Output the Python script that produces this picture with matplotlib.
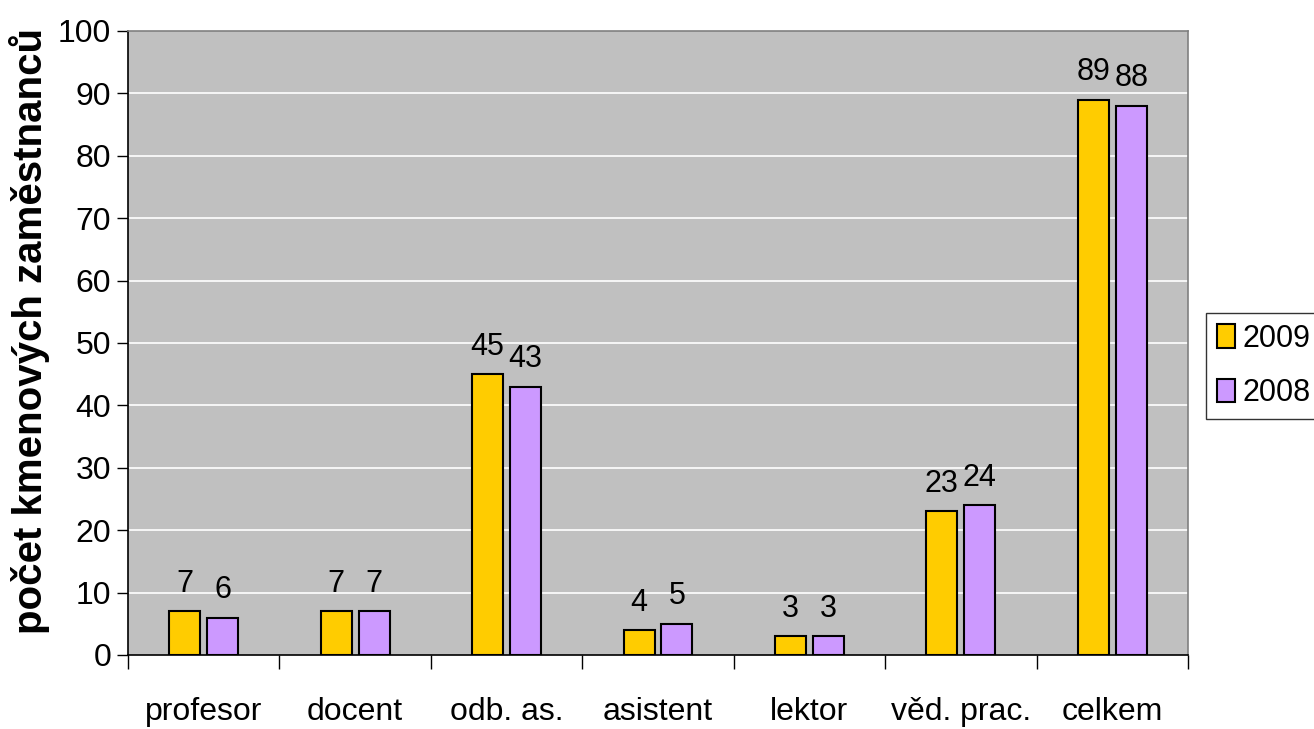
import numpy as np
import matplotlib
matplotlib.use("Agg")
import matplotlib.pyplot as plt

plt.rcParams['font.family'] = ['Liberation Sans', 'DejaVu Sans']

categories = ["profesor", "docent", "odb. as.", "asistent", "lektor", "věd. prac.", "celkem"]
values_2009 = [7, 7, 45, 4, 3, 23, 89]
values_2008 = [6, 7, 43, 5, 3, 24, 88]
series_names = ["2009", "2008"]
colors = ["#FFCC00", "#CC99FF"]

fig = plt.figure(figsize=(13.14, 7.29), dpi=100)
ax = fig.add_axes([128/1314, 74/729, 1060/1314, 624/729])
ax.set_facecolor("#C0C0C0")

x = np.arange(len(categories))
w = 0.205
off = 0.125
for vals, name, c, sign in [(values_2009, series_names[0], colors[0], -1),
                            (values_2008, series_names[1], colors[1], 1)]:
    bars = ax.bar(x + sign * off, vals, w, color=c, edgecolor="black",
                  linewidth=1.5, label=name, zorder=3)
    for b, v in zip(bars, vals):
        ax.text(b.get_x() + b.get_width() / 2, v + 2.0, str(v),
                ha="center", va="bottom", fontsize=22)

ax.set_xlim(-0.5, len(categories) - 0.5)
ax.set_ylim(0, 100)
ax.set_yticks(range(0, 101, 10))
ax.set_yticklabels([str(v) for v in range(0, 101, 10)], fontsize=23)
for y in range(10, 100, 10):
    ax.axhline(y, color="white", linewidth=1.2, zorder=1)

# category boundaries get the tick marks, labels sit on the centres
ax.set_xticks(np.arange(-0.5, len(categories), 1))
ax.set_xticklabels([])
ax.set_xticks(x, minor=True)
ax.set_xticklabels(categories, minor=True, fontsize=23)
ax.tick_params(axis="x", which="minor", length=0, pad=30)
ax.tick_params(axis="x", which="major", length=10, width=1, direction="out")
ax.tick_params(axis="y", length=8, width=1, direction="out", pad=4)

ax.spines["left"].set_color("black")
ax.spines["bottom"].set_color("black")
ax.spines["top"].set_color("#808080")
ax.spines["right"].set_color("#808080")
for s in ax.spines.values():
    s.set_linewidth(1.2)

ax.set_ylabel("počet kmenových zaměstnanců", fontsize=29, fontweight="bold", labelpad=6)
ax.yaxis.label.set_y(0.52)

leg = fig.legend(loc="upper left", bbox_to_anchor=(1206/1314, 1 - 313/729),
                 fontsize=22, frameon=True, fancybox=False, edgecolor="black",
                 handlelength=0.6, handleheight=0.8, handletextpad=0.25,
                 borderpad=0.35, labelspacing=0.8, borderaxespad=0)
leg.get_frame().set_linewidth(1)

fig.savefig("out.png", dpi=100)
